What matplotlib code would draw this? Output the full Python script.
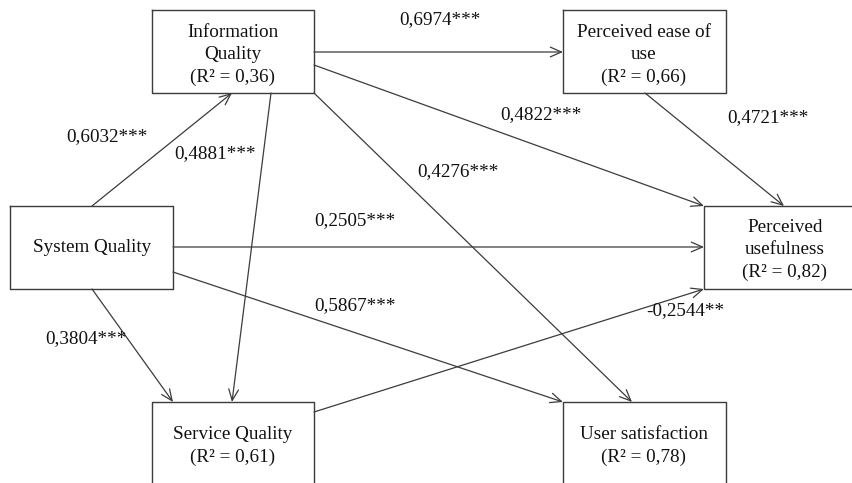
import matplotlib.pyplot as plt

# constructs and R² values
nodes = ['IQ', 'PEOU', 'SQ', 'PU', 'SerQ', 'US']
node_text = ['Information\nQuality', 'Perceived ease of\nuse', 'System Quality',
             'Perceived\nusefulness', 'Service Quality', 'User satisfaction']
r2 = [0.36, 0.66, None, 0.82, 0.61, 0.78]

# paths and coefficients
path_from = ['IQ', 'SQ', 'IQ', 'IQ', 'IQ', 'SQ', 'SQ', 'SQ', 'SerQ', 'PEOU']
path_to = ['PEOU', 'IQ', 'SerQ', 'PU', 'US', 'PU', 'US', 'SerQ', 'PU', 'PU']
coef = ['0,6974***', '0,6032***', '0,4881***', '0,4822***', '0,4276***',
        '0,2505***', '0,5867***', '0,3804***', '-0,2544**', '0,4721***']

# layout in pixels (x0, y0, x1, y1), text centre; None = side cut off by the page
boxes = {
    'IQ': (152, 10, 314, 93),
    'PEOU': (563, 10, 726, 93),
    'SQ': (10, 206, 173, 289),
    'PU': (704, 206, None, 289),
    'SerQ': (152, 402, 314, None),
    'US': (563, 402, 726, None),
}
text_pos = {
    'IQ': (233, 55), 'PEOU': (644, 55), 'SQ': (92, 247),
    'PU': (785, 250), 'SerQ': (233, 446), 'US': (644, 446),
}
ends = [((314, 52), (563, 52)), ((92, 206), (232, 93)), ((271, 93), (232, 402)),
        ((314, 65), (704, 206)), ((314, 93), (632, 402)), ((173, 247), (704, 247)),
        ((173, 272), (563, 402)), ((92, 289), (173, 402)), ((314, 412), (704, 289)),
        ((645, 93), (784, 206))]
label_pos = [(440, 20), (107, 137), (215, 154), (541, 115), (458, 172),
             (355, 221), (355, 306), (86, 339), (685, 311), (768, 118)]

plt.rcParams['font.family'] = ['Liberation Serif', 'DejaVu Serif']
fs = 13.8
col = '#3c3c3c'
W, H = 853, 483

fig = plt.figure(figsize=(8.53, 4.83), dpi=100)
ax = fig.add_axes([0, 0, 1, 1])
ax.set_xlim(0, W)
ax.set_ylim(H, 0)
ax.axis('off')

for n, t, r in zip(nodes, node_text, r2):
    x0, y0, x1, y1 = boxes[n]
    if x1 is None:
        ax.plot([W, x0, x0, W], [y0, y0, y1, y1], color=col, lw=1.0)
    elif y1 is None:
        ax.plot([x0, x0, x1, x1], [H, y0, y0, H], color=col, lw=1.0)
    else:
        ax.plot([x0, x1, x1, x0, x0], [y0, y0, y1, y1, y0], color=col, lw=1.0)
    s = t if r is None else t + '\n(R\u00b2 = ' + ('%.2f' % r).replace('.', ',') + ')'
    ax.text(*text_pos[n], s, ha='center', va='center', fontsize=fs,
            linespacing=1.4, color='#111111')

for (a, b), lab, lp in zip(ends, coef, label_pos):
    ax.annotate('', xy=b, xytext=a,
                arrowprops=dict(arrowstyle='->,head_length=0.8,head_width=0.35',
                                mutation_scale=10, color=col, lw=0.9,
                                shrinkA=0, shrinkB=0))
    ax.text(*lp, lab, ha='center', va='center', fontsize=fs, color='#111111')

fig.savefig('out.png', dpi=100)
